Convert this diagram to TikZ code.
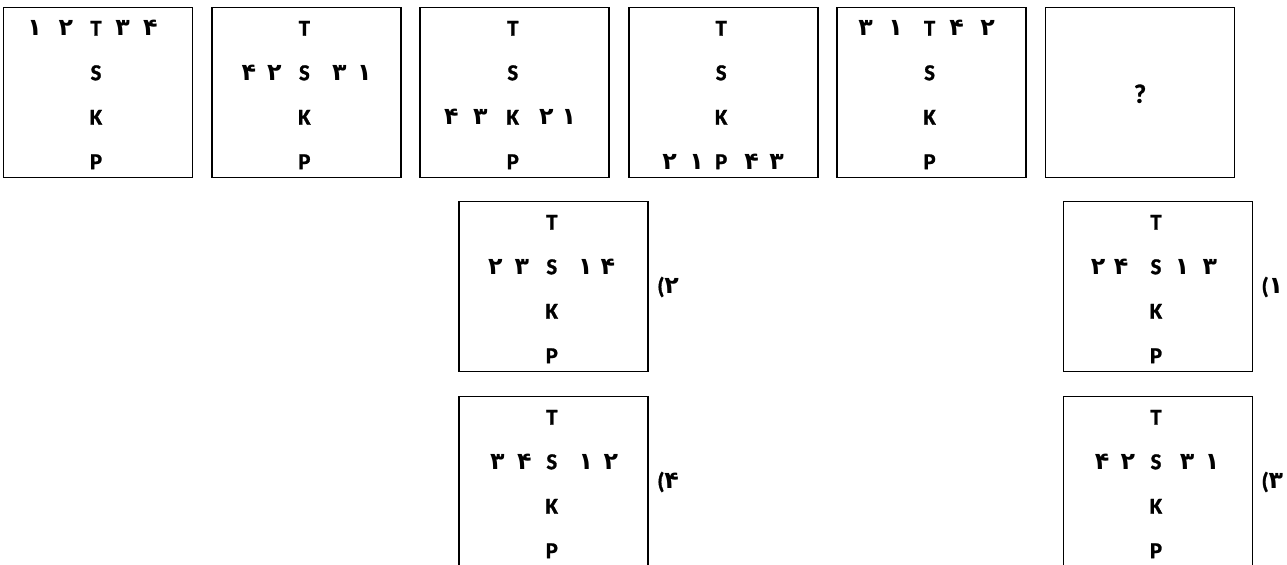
\documentclass[tikz,border=0pt]{standalone}
\usepackage{fontspec}
\setmainfont{Carlito}[BoldFeatures={FakeBold=1.2}]
\newfontfamily\fadigits{DejaVu Sans}
\usetikzlibrary{positioning}
% a digit centred at an offset (mm) from the letter column, taking no width
\newcommand{\digat}[2]{\hspace*{#1mm}\makebox[0pt]{\fadigits\fontsize{13.5}{15}\selectfont #2}\hspace*{-#1mm}}

\begin{document}
\begin{tikzpicture}[
  card/.style={draw,line width=1pt,minimum width=37.8mm,minimum height=34mm,
               inner sep=0pt,outer sep=0pt},
  cardrow/.style={inner sep=0pt,outer sep=0pt,text height=2.9mm,text depth=0pt,
                  font=\fontsize{13}{15}\selectfont\bfseries},
  first/.style={cardrow,below=2.75mm of #1.north,xshift=-0.4mm},
  next/.style={cardrow,below=6mm of #1},
  tag/.style={cardrow,right=1.8mm of #1}]
\path[use as bounding box,clip] (0,0) rectangle (257.4mm,-113mm);
% question row
\node[card] (c1) at (19.6mm,-18.5mm) {};
\node[card,right=3.88mm of c1] (c2) {};
\node[card,right=3.88mm of c2] (c3) {};
\node[card,right=3.88mm of c3] (c4) {};
\node[card,right=3.88mm of c4] (c5) {};
\node[card,right=3.88mm of c5] (c6) {};
\node[first=c1] (c1t) {\digat{-12.3}{۱}\digat{-6.0}{۲}\makebox[0pt]{T}\digat{5.3}{۳}\digat{10.9}{۴}};
\node[next=c1t] (c1s) {\makebox[0pt]{S}};
\node[next=c1s] (c1k) {\makebox[0pt]{K}};
\node[next=c1k] (c1p) {\makebox[0pt]{P}};
\node[first=c2] (c2t) {\makebox[0pt]{T}};
\node[next=c2t] (c2s) {\digat{-11.1}{۴}\digat{-6.0}{۲}\makebox[0pt]{S}\digat{7.0}{۳}\digat{12.0}{۱}};
\node[next=c2s] (c2k) {\makebox[0pt]{K}};
\node[next=c2k] (c2p) {\makebox[0pt]{P}};
\node[first=c3] (c3t) {\makebox[0pt]{T}};
\node[next=c3t] (c3s) {\makebox[0pt]{S}};
\node[next=c3s] (c3k) {\digat{-12.3}{۴}\digat{-6.5}{۳}\makebox[0pt]{K}\digat{6.7}{۲}\digat{11.2}{۱}};
\node[next=c3k] (c3p) {\makebox[0pt]{P}};
\node[first=c4] (c4t) {\makebox[0pt]{T}};
\node[next=c4t] (c4s) {\makebox[0pt]{S}};
\node[next=c4s] (c4k) {\makebox[0pt]{K}};
\node[next=c4k] (c4p) {\digat{-10.3}{۲}\digat{-4.9}{۱}\makebox[0pt]{P}\digat{6.1}{۴}\digat{11.1}{۳}};
\node[first=c5] (c5t) {\digat{-12.8}{۳}\digat{-6.8}{۱}\makebox[0pt]{T}\digat{5.4}{۴}\digat{11.6}{۲}};
\node[next=c5t] (c5s) {\makebox[0pt]{S}};
\node[next=c5s] (c5k) {\makebox[0pt]{K}};
\node[next=c5k] (c5p) {\makebox[0pt]{P}};
\node[cardrow,font=\fontsize{15}{17}\selectfont\bfseries,yshift=-0.6mm] (q) at (c6.center) {?};
% answer choices
\node[card] (a2) at (110.76mm,-57.3mm) {};
\node[card,below=5mm of a2] (a4) {};
\node[card] (a1) at (231.6mm,-57.3mm) {};
\node[card,below=5mm of a1] (a3) {};
\node[first=a1] (a1t) {\makebox[0pt]{T}};
\node[next=a1t] (a1s) {\digat{-11.6}{۲}\digat{-7.0}{۴}\makebox[0pt]{S}\digat{5.2}{۱}\digat{10.8}{۳}};
\node[next=a1s] (a1k) {\makebox[0pt]{K}};
\node[next=a1k] (a1p) {\makebox[0pt]{P}};
\node[first=a2] (a2t) {\makebox[0pt]{T}};
\node[next=a2t] (a2s) {\digat{-11.3}{۲}\digat{-6.0}{۳}\makebox[0pt]{S}\digat{6.7}{۱}\digat{11.2}{۴}};
\node[next=a2s] (a2k) {\makebox[0pt]{K}};
\node[next=a2k] (a2p) {\makebox[0pt]{P}};
\node[first=a3] (a3t) {\makebox[0pt]{T}};
\node[next=a3t] (a3s) {\digat{-10.8}{۴}\digat{-5.6}{۲}\makebox[0pt]{S}\digat{6.2}{۳}\digat{11.2}{۱}};
\node[next=a3s] (a3k) {\makebox[0pt]{K}};
\node[next=a3k] (a3p) {\makebox[0pt]{P}};
\node[first=a4] (a4t) {\makebox[0pt]{T}};
\node[next=a4t] (a4s) {\digat{-10.9}{۳}\digat{-5.5}{۴}\makebox[0pt]{S}\digat{6.8}{۱}\digat{11.8}{۲}};
\node[next=a4s] (a4k) {\makebox[0pt]{K}};
\node[next=a4k] (a4p) {\makebox[0pt]{P}};
\node[tag=a1] (t1) {(\fadigits\fontsize{13.5}{15}\selectfont ۱};
\node[tag=a2] (t2) {(\fadigits\fontsize{13.5}{15}\selectfont ۲};
\node[tag=a3] (t3) {(\fadigits\fontsize{13.5}{15}\selectfont ۳};
\node[tag=a4] (t4) {(\fadigits\fontsize{13.5}{15}\selectfont ۴};
\end{tikzpicture}
\end{document}
